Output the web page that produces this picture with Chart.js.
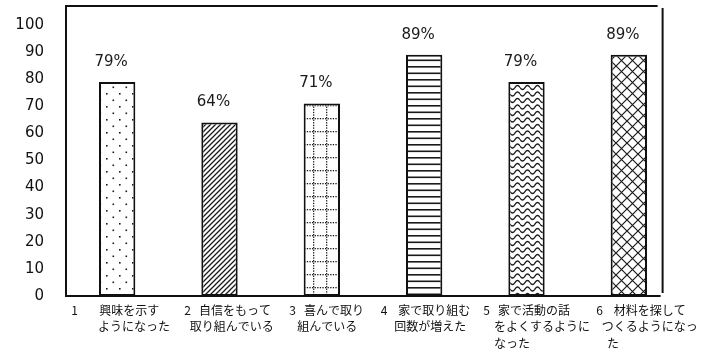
<!DOCTYPE html>
<html>
<head>
<meta charset="utf-8">
<style>
  html, body { margin: 0; padding: 0; background: #ffffff; }
  #wrap { width: 704px; height: 356px; }
</style>
<script src="https://cdn.jsdelivr.net/npm/chart.js@4/dist/chart.umd.min.js"></script>
</head>
<body>
<div id="wrap"><canvas id="chart" width="704" height="356"></canvas></div>
<script>
// Survey items: number + description lines
const itemNumbers = ['1', '2', '3', '4', '5', '6'];
const itemTexts = [
  ['興味を示す', 'ようになった'],
  ['自信をもって', '取り組んでいる'],
  ['喜んで取り', '組んでいる'],
  ['家で取り組む', '回数が増えた'],
  ['家で活動の話', 'をよくするように', 'なった'],
  ['材料を探して', 'つくるようになっ', 'た']
];
// Share of responses (%)
const percentages = [79, 64, 71, 89, 79, 89];
// Value axis ticks
const yTickValues = [0, 10, 20, 30, 40, 50, 60, 70, 80, 90, 100];

// Label indentation (in spaces): before number, between number and text, continuation lines
const labelIndent = [
  [0, 8, 10],
  [4, 3, 6],
  [5, 3, 8],
  [1, 4, 6],
  [1, 3, 5],
  [5, 4, 7, 9]
];

const sp = n => ' '.repeat(n);
const categoryLabels = itemNumbers.map((num, i) => {
  const ind = labelIndent[i];
  const lines = itemTexts[i];
  return lines.map((t, k) => {
    if (k === 0) return sp(ind[0]) + num + sp(ind[1]) + t;
    const cont = ind[1 + k] !== undefined ? ind[1 + k] : ind[2];
    return sp(cont) + t;
  });
});

// Monochrome hatch fills
function makePattern(w, h, draw) {
  const c = document.createElement('canvas');
  c.width = w; c.height = h;
  const g = c.getContext('2d');
  g.fillStyle = '#ffffff';
  g.fillRect(0, 0, w, h);
  g.strokeStyle = '#1a1a1a';
  g.fillStyle = '#1a1a1a';
  draw(g, w, h);
  return g.createPattern(c, 'repeat');
}

const patDots = makePattern(13, 13, g => {
  g.fillRect(2, 2, 1.6, 1.6);
  g.fillRect(8.5, 8.5, 1.6, 1.6);
});
const patDiag = makePattern(5, 5, g => {
  g.lineWidth = 1.3;
  g.beginPath();
  g.moveTo(-1, 6); g.lineTo(6, -1);
  g.moveTo(-1, 1); g.lineTo(1, -1);
  g.moveTo(4, 6); g.lineTo(6, 4);
  g.stroke();
});
const patDotGrid = makePattern(13, 13, g => {
  for (let p = 0; p < 13; p += 2.6) {
    g.fillRect(p, 1, 1.3, 1.3);
    g.fillRect(1, p, 1.3, 1.3);
  }
});
const patHLines = makePattern(4, 13, g => {
  g.fillRect(0, 1, 4, 1.6);
  g.fillRect(0, 7.5, 4, 1.6);
});
const patWaves = makePattern(10, 13, g => {
  g.lineWidth = 1.3;
  for (const base of [3, 9.5]) {
    g.beginPath();
    for (let x = 0; x <= 10; x += 0.5) {
      const y = base + 2 * Math.sin(2 * Math.PI * x / 10);
      if (x === 0) g.moveTo(x, y); else g.lineTo(x, y);
    }
    g.stroke();
  }
});
const patCross = makePattern(11, 11, g => {
  g.lineWidth = 1.2;
  g.beginPath();
  g.moveTo(-1, -1); g.lineTo(12, 12);
  g.moveTo(-1, 12); g.lineTo(12, -1);
  g.stroke();
});
const barFills = [patDots, patDiag, patDotGrid, patHLines, patWaves, patCross];

// Outline box around the plot
const frameBox = {
  id: 'frameBox',
  afterDatasetsDraw(chart) {
    const { ctx, chartArea, scales } = chart;
    const xs = scales.x;
    const step = xs.getPixelForValue(5) - xs.getPixelForValue(4);
    const right = xs.getPixelForValue(5) + 0.33 * step;
    ctx.save();
    ctx.strokeStyle = '#111111';
    ctx.lineWidth = 2;
    ctx.beginPath();
    ctx.moveTo(chartArea.left, chartArea.bottom);
    ctx.lineTo(chartArea.left, chartArea.top);
    ctx.lineTo(right - 5, chartArea.top);
    ctx.moveTo(right, chartArea.top + 2);
    ctx.lineTo(right, chartArea.bottom - 3);
    ctx.moveTo(chartArea.left - 1, chartArea.bottom);
    ctx.lineTo(right - 2, chartArea.bottom);
    ctx.stroke();
    ctx.restore();
  }
};

// Percentage captions above bars
const valueCaptions = {
  id: 'valueCaptions',
  afterDatasetsDraw(chart) {
    const { ctx } = chart;
    const meta = chart.getDatasetMeta(0);
    ctx.save();
    ctx.font = '15px "DejaVu Sans"';
    ctx.fillStyle = '#1a1a1a';
    ctx.textAlign = 'center';
    ctx.textBaseline = 'middle';
    meta.data.forEach((bar, i) => {
      ctx.fillText(percentages[i] + '%', bar.x - 6, bar.y - 20);
    });
    ctx.restore();
  }
};

const noEdgePadding = s => {
  s.paddingLeft = 0; s.paddingRight = 0;
  s.paddingTop = 0; s.paddingBottom = 0;
};

new Chart(document.getElementById('chart'), {
  type: 'bar',
  data: {
    labels: categoryLabels,
    datasets: [{
      data: percentages,
      backgroundColor: barFills,
      borderColor: '#111111',
      borderWidth: 2,
      borderSkipped: false,
      barPercentage: 0.355,
      categoryPercentage: 1
    }]
  },
  options: {
    responsive: false,
    animation: false,
    devicePixelRatio: 1,
    layout: { padding: { top: 6, right: 24, left: 0, bottom: 0 } },
    plugins: {
      legend: { display: false },
      tooltip: { enabled: false }
    },
    scales: {
      x: {
        type: 'category',
        offset: true,
        grid: { display: false, drawTicks: false },
        border: { display: false },
        ticks: {
          autoSkip: false,
          maxRotation: 0,
          minRotation: 0,
          align: 'start',
          labelOffset: -46,
          padding: 6,
          color: '#111111',
          font: { family: '"Noto Sans CJK JP"', size: 12, lineHeight: 1.375 }
        },
        afterFit: s => { s.height = 60; noEdgePadding(s); }
      },
      y: {
        type: 'linear',
        min: 0,
        max: 107,
        grid: { display: false, drawTicks: false },
        border: { display: false },
        afterBuildTicks: s => { s.ticks = yTickValues.map(v => ({ value: v })); },
        ticks: {
          padding: 22,
          color: '#111111',
          font: { family: '"DejaVu Sans"', size: 15 }
        },
        afterFit: s => { s.width = 66; noEdgePadding(s); }
      }
    }
  },
  plugins: [frameBox, valueCaptions]
});
</script>
</body>
</html>
